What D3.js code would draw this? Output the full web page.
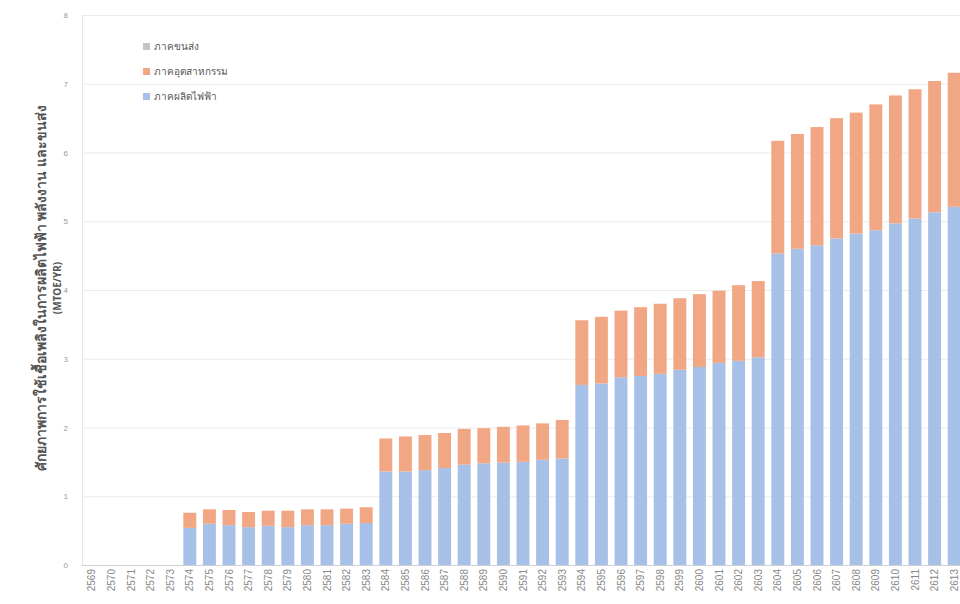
<!DOCTYPE html>
<html>
<head>
<meta charset="utf-8">
<script src="https://cdn.jsdelivr.net/npm/d3@7"></script>
<style>
  body { margin: 0; background: #fff; }
  svg { font-family: "Noto Sans", "DejaVu Sans", sans-serif; }
</style>
</head>
<body>
<div id="root"></div>
<script>
// Categories (Thai Buddhist years).
const years = ['2569','2570','2571','2572','2573','2574','2575','2576','2577','2578',
  '2579','2580','2581','2582','2583','2584','2585','2586','2587','2588',
  '2589','2590','2591','2592','2593','2594','2595','2596','2597','2598',
  '2599','2600','2601','2602','2603','2604','2605','2606','2607','2608',
  '2609','2610','2611','2612','2613'];

// Series values (MTOE/YR).
const power = [0,0,0,0,0,
  0.54,0.60,0.58,0.55,0.57,0.55,0.58,0.58,0.60,0.61,
  1.36,1.36,1.38,1.41,1.46,1.48,1.49,1.50,1.53,1.55,
  2.62,2.64,2.73,2.75,2.78,2.84,2.88,2.94,2.97,3.02,
  4.53,4.60,4.65,4.75,4.82,4.87,4.97,5.04,5.13,5.21];
const industry = [0,0,0,0,0,
  0.22,0.21,0.22,0.22,0.22,0.24,0.23,0.23,0.22,0.23,
  0.48,0.51,0.51,0.51,0.52,0.51,0.52,0.53,0.53,0.56,
  0.94,0.97,0.97,1.00,1.02,1.04,1.06,1.05,1.10,1.11,
  1.64,1.67,1.72,1.75,1.76,1.83,1.86,1.88,1.91,1.95];
const transport = [0,0,0,0,0,
  0,0,0,0,0,0,0,0,0,0,
  0,0,0,0,0,0,0,0,0,0,
  0,0,0,0,0,0,0,0,0,0,
  0,0,0,0,0,0,0,0,0,0];

const yTicks = [0,1,2,3,4,5,6,7,8];
const seriesNames = ['ภาคขนส่ง', 'ภาคอุตสาหกรรม', 'ภาคผลิตไฟฟ้า'];
const yTitle = 'ศักยภาพการใช้เชื้อเพลิงในการผลิตไฟฟ้า พลังงาน และขนส่ง';
const yUnit = '(MTOE/YR)';

let width = 960;
let height = 604;

const colors = { power: '#a6c0e7', industry: '#f2a784', transport: '#c4c4c4' };

let svg = d3.select('#root')
  .append('svg')
  .attr('width', width)
  .attr('height', height);

let rows = years.map((y, i) => ({ year: y, power: power[i], industry: industry[i], transport: transport[i] }));
let stacked = d3.stack().keys(['power', 'industry', 'transport'])(rows);

let xScale = d3.scaleBand()
  .domain(years)
  .range([82, 964])
  .paddingInner(0.34)
  .paddingOuter(0.17);

let yScale = d3.scaleLinear()
  .domain([0, 8])
  .range([565, 15]);

// gridlines
svg.append('g')
  .selectAll('line')
  .data(yTicks)
  .enter()
  .append('line')
  .attr('x1', 82)
  .attr('x2', width)
  .attr('y1', d => yScale(d) + 0.5)
  .attr('y2', d => yScale(d) + 0.5)
  .attr('stroke', d => d === 0 ? '#d0d0d0' : '#ebebeb');

svg.append('line')
  .attr('x1', 82.5).attr('x2', 82.5)
  .attr('y1', yScale(8)).attr('y2', yScale(0))
  .attr('stroke', '#e6e6e6');

// bars
svg.append('g')
  .selectAll('g')
  .data(stacked)
  .enter()
  .append('g')
  .attr('fill', d => colors[d.key])
  .selectAll('rect')
  .data(d => d)
  .enter()
  .append('rect')
  .attr('x', d => xScale(d.data.year))
  .attr('width', xScale.bandwidth())
  .attr('y', d => yScale(d[1]))
  .attr('height', d => yScale(d[0]) - yScale(d[1]));

// y axis labels
let yAxis = d3.axisLeft(yScale).tickValues(yTicks).tickSize(0).tickPadding(12);
let gy = svg.append('g').attr('transform', 'translate(80,0)').call(yAxis);
gy.select('.domain').remove();
gy.selectAll('text').attr('fill', '#999').style('font-size', '8px');

// x axis labels
let xAxis = d3.axisBottom(xScale).tickSize(0).tickPadding(4);
let gx = svg.append('g').attr('transform', 'translate(0,566)').call(xAxis);
gx.select('.domain').remove();
gx.selectAll('text')
  .attr('fill', '#888')
  .style('font-size', '10px')
  .attr('text-anchor', 'end')
  .attr('dx', '0')
  .attr('dy', '0.35em')
  .attr('transform', 'rotate(-90) translate(-3,-4)');

// y title
svg.append('text')
  .attr('transform', 'translate(46,288) rotate(-90)')
  .attr('text-anchor', 'middle')
  .attr('fill', '#555')
  .style('font-size', '14px')
  .style('font-weight', 'bold')
  .text(yTitle);
svg.append('text')
  .attr('transform', 'translate(61,288) rotate(-90)')
  .attr('text-anchor', 'middle')
  .attr('fill', '#555')
  .style('font-size', '10px')
  .style('font-weight', 'bold')
  .text(yUnit);

// legend
let legendColors = [colors.transport, colors.industry, colors.power];
let legend = svg.append('g').attr('transform', 'translate(143,43)');
seriesNames.forEach((name, i) => {
  legend.append('rect')
    .attr('x', 0).attr('y', i * 25)
    .attr('width', 7).attr('height', 7)
    .attr('fill', legendColors[i]);
  legend.append('text')
    .attr('x', 11).attr('y', i * 25 + 7)
    .attr('fill', '#555')
    .style('font-size', '10px')
    .text(name);
});
</script>
</body>
</html>
